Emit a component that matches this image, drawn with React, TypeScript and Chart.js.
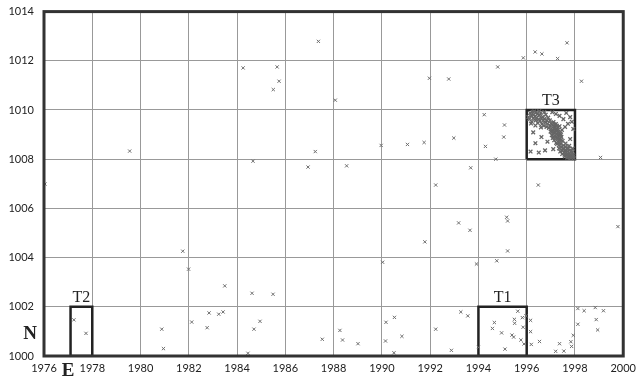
import React, { useEffect, useRef } from "react";
import { Chart, registerables } from "chart.js";

Chart.register(...registerables);

const xTicksMin = 1976;
const xTicksMax = 2000;
const yTicksMin = 1000;
const yTicksMax = 1014;

const scatterPoints: number[][] = [
  [1977.24, 1001.47], [1977.74, 1000.92], [1979.55, 1008.33], [1976.04, 1006.99],
  [1980.88, 1001.09], [1980.95, 1000.3], [1981.75, 1004.26], [1981.99, 1003.53],
  [1982.12, 1001.38], [1982.76, 1001.15], [1982.84, 1001.75], [1983.24, 1001.7],
  [1983.42, 1001.79], [1983.49, 1002.85], [1984.62, 1002.55], [1985.49, 1002.51],
  [1984.95, 1001.41], [1984.7, 1001.09], [1984.45, 1000.11], [1984.25, 1011.71],
  [1985.66, 1011.75], [1985.74, 1011.17], [1985.5, 1010.83], [1984.66, 1007.92],
  [1987.37, 1012.79], [1988.07, 1010.4], [1987.24, 1008.31], [1986.94, 1007.68],
  [1988.54, 1007.73], [1987.53, 1000.68], [1988.26, 1001.04], [1988.37, 1000.65],
  [1989.01, 1000.5], [1989.97, 1008.56], [1991.06, 1008.6], [1990.03, 1003.81],
  [1990.17, 1001.37], [1990.52, 1001.57], [1990.15, 1000.61], [1990.83, 1000.8],
  [1990.5, 1000.13], [1991.75, 1008.68], [1991.97, 1011.29], [1992.77, 1011.26],
  [1992.98, 1008.86], [1992.23, 1006.95], [1991.78, 1004.64], [1993.68, 1007.65],
  [1993.18, 1005.41], [1993.65, 1005.11], [1993.92, 1003.74], [1992.23, 1001.09],
  [1992.88, 1000.23], [1993.27, 1001.79], [1993.56, 1001.63], [1994.29, 1008.52],
  [1994.24, 1009.81], [1994.72, 1008.0], [1995.05, 1008.9], [1995.08, 1009.39],
  [1994.8, 1011.75], [1995.17, 1005.64], [1995.21, 1005.49], [1995.21, 1004.27],
  [1994.76, 1003.87], [1995.86, 1012.12], [1996.35, 1012.36], [1996.63, 1012.28],
  [1997.28, 1012.09], [1997.67, 1012.73], [1998.27, 1011.17], [1996.48, 1006.95],
  [1999.06, 1008.07], [1999.78, 1005.26], [1996.16, 1001.45], [1996.16, 1000.99],
  [1996.19, 1000.47], [1996.53, 1000.59], [1997.2, 1000.19], [1997.36, 1000.5],
  [1997.54, 1000.2], [1997.83, 1000.58], [1997.86, 1000.39], [1997.93, 1000.84],
  [1998.12, 1001.93], [1998.38, 1001.84], [1998.84, 1001.97], [1999.18, 1001.84],
  [1998.12, 1001.29], [1998.88, 1001.48], [1998.94, 1001.06],
];

const clusterT1: number[][] = [
  [1995.63, 1001.82], [1994.66, 1001.36], [1994.58, 1001.12], [1994.96, 1000.94],
  [1995.49, 1001.49], [1995.5, 1001.33], [1995.82, 1001.56], [1995.97, 1001.63],
  [1995.85, 1001.17], [1995.39, 1000.85], [1995.46, 1000.77], [1995.76, 1000.65],
  [1995.89, 1000.49], [1995.1, 1000.28], [1994.0, 1000.35],
];

const clusterT3: number[][] = [
  // upper-left band
  [1996.07, 1009.71], [1996.11, 1009.63], [1996.14, 1009.88], [1996.19, 1009.77],
  [1996.21, 1009.52], [1996.24, 1009.93], [1996.27, 1009.66], [1996.29, 1009.81],
  [1996.34, 1009.74], [1996.37, 1009.58], [1996.39, 1009.91], [1996.41, 1009.69],
  [1996.44, 1009.83], [1996.46, 1009.47], [1996.49, 1009.62], [1996.53, 1009.78],
  [1996.55, 1009.55], [1996.58, 1009.88], [1996.61, 1009.67], [1996.63, 1009.43],
  [1996.66, 1009.72], [1996.69, 1009.58], [1996.71, 1009.36], [1996.74, 1009.64],
  [1996.77, 1009.49], [1996.79, 1009.81], [1996.82, 1009.31], [1996.84, 1009.57],
  [1996.87, 1009.44], [1996.89, 1009.69], [1996.92, 1009.27], [1996.18, 1009.45],
  [1996.31, 1009.94], [1996.52, 1009.95], [1996.73, 1009.92], [1996.36, 1009.37],
  [1996.59, 1009.29], [1996.96, 1009.58],
  // scattered upper-right
  [1997.06, 1009.91], [1997.21, 1009.84], [1997.36, 1009.76], [1997.52, 1009.63],
  [1997.8, 1009.71], [1997.64, 1009.88], [1997.93, 1009.23], [1997.71, 1009.44],
  [1997.59, 1009.31], [1997.87, 1009.52],
  // central dense blob
  [1996.97, 1009.36], [1996.99, 1009.12], [1997.01, 1009.46], [1997.02, 1009.24],
  [1997.04, 1008.98], [1997.06, 1009.39], [1997.08, 1008.86], [1997.09, 1009.18],
  [1997.11, 1009.51], [1997.12, 1009.07], [1997.14, 1008.77], [1997.16, 1009.31],
  [1997.17, 1008.94], [1997.19, 1009.16], [1997.21, 1009.43], [1997.22, 1008.66],
  [1997.24, 1009.02], [1997.26, 1008.84], [1997.27, 1009.27], [1997.29, 1008.71],
  [1997.31, 1009.11], [1997.33, 1008.56], [1997.34, 1008.96], [1997.36, 1009.34],
  [1997.38, 1008.81], [1997.39, 1009.04], [1997.41, 1008.61], [1997.44, 1008.91],
  [1997.46, 1009.19], [1997.49, 1008.74], [1997.13, 1009.26], [1997.18, 1009.09],
  [1997.23, 1009.21], [1997.28, 1008.98], [1997.32, 1008.83], [1997.1, 1008.92],
  [1997.25, 1009.36], [1997.15, 1009.42], [1997.37, 1008.68], [1997.43, 1008.78],
  [1997.05, 1009.1], [1997.2, 1008.88], [1997.3, 1009.2], [1997.35, 1009.06],
  [1997.26, 1008.62], [1997.42, 1009.0],
  // lower-right band
  [1997.34, 1008.44], [1997.39, 1008.31], [1997.44, 1008.49], [1997.47, 1008.21],
  [1997.51, 1008.41], [1997.53, 1008.56], [1997.56, 1008.26], [1997.58, 1008.11],
  [1997.61, 1008.37], [1997.62, 1008.51], [1997.66, 1008.17], [1997.68, 1008.06],
  [1997.69, 1008.31], [1997.73, 1008.44], [1997.74, 1008.13], [1997.78, 1008.23],
  [1997.79, 1008.36], [1997.83, 1008.05], [1997.84, 1008.16], [1997.88, 1008.27],
  [1997.89, 1008.08], [1997.92, 1008.19], [1997.95, 1008.04], [1997.61, 1008.64],
  [1997.76, 1008.54], [1997.91, 1008.43], [1997.55, 1008.43], [1997.64, 1008.27],
  [1997.71, 1008.2], [1997.81, 1008.12], [1997.86, 1008.34], [1997.94, 1008.12],
  [1997.48, 1008.35], [1997.57, 1008.18], [1997.67, 1008.42], [1997.76, 1008.07],
  // scattered lower-left
  [1996.36, 1008.65], [1996.5, 1008.27], [1996.27, 1009.09], [1996.61, 1008.9],
  [1996.76, 1008.36], [1996.16, 1008.31], [1997.8, 1008.82], [1997.1, 1008.41],
  [1996.86, 1008.71],
];

// rectangles: [xMin, xMax, yMin, yMax]
const boxNames = ["T1", "T2", "T3"];
const boxT1 = [1994, 1996, 1000, 1002];
const boxT2 = [1977.1, 1978, 1000, 1002];
const boxT3 = [1996, 1998, 1008, 1010];

const toXY = (arr: number[][]) => arr.map(([x, y]) => ({ x, y }));
const boxPath = (b: number[]) => [
  { x: b[0], y: b[2] },
  { x: b[0], y: b[3] },
  { x: b[1], y: b[3] },
  { x: b[1], y: b[2] },
  { x: b[0], y: b[2] },
];

const overlayPlugin = {
  id: "overlay",
  afterDraw(chart: any) {
    const { ctx, chartArea, scales } = chart;
    const xs = scales.x;
    const ys = scales.y;
    ctx.save();
    ctx.strokeStyle = "#333";
    ctx.lineWidth = 3;
    ctx.strokeRect(chartArea.left, chartArea.top, chartArea.right - chartArea.left, chartArea.bottom - chartArea.top);
    ctx.fillStyle = "#222";
    ctx.textAlign = "center";
    ctx.textBaseline = "bottom";
    [boxT1, boxT2, boxT3].forEach((b, i) => {
      const cx = xs.getPixelForValue((b[0] + b[1]) / 2);
      const cy = ys.getPixelForValue(b[3]);
      ctx.font = "16px 'Liberation Serif', serif";
      ctx.fillText(boxNames[i], cx, cy - 1);
    });
    ctx.font = "bold 19px 'Liberation Serif', serif";
    ctx.textAlign = "center";
    ctx.textBaseline = "middle";
    ctx.fillText("N", chartArea.left - 14, ys.getPixelForValue(1000.9));
    ctx.fillText("E", xs.getPixelForValue(1977), chartArea.bottom + 15);
    ctx.restore();
  },
};

export default function App() {
  const ref = useRef<HTMLCanvasElement>(null);
  useEffect(() => {
    if (!ref.current) return;
    const pointStyle = {
      pointStyle: "crossRot" as const,
      pointRadius: 2.3,
      pointBorderWidth: 1,
      showLine: false,
    };
    const boxStyle = {
      showLine: true,
      borderColor: "#222",
      borderWidth: 2.5,
      pointRadius: 0,
      fill: false,
      tension: 0,
    };
    const tickFont = { family: "Lato, 'Liberation Sans', sans-serif", size: 11 };
    const chart = new Chart(ref.current, {
      type: "scatter",
      data: {
        datasets: [
          { data: toXY(scatterPoints), borderColor: "#6e6e6e", backgroundColor: "#6e6e6e", ...pointStyle },
          { data: toXY(clusterT1), borderColor: "#6e6e6e", backgroundColor: "#6e6e6e", ...pointStyle },
          { data: toXY(clusterT3), borderColor: "#666", backgroundColor: "#666", ...pointStyle, pointRadius: 2.6, pointBorderWidth: 1.3 },
          { data: boxPath(boxT1), ...boxStyle },
          { data: boxPath(boxT2), ...boxStyle },
          { data: boxPath(boxT3), ...boxStyle },
        ] as any,
      },
      options: {
        animation: false,
        responsive: false,
        events: [],
        layout: { padding: { top: 0, right: 18, left: 0, bottom: 0 } },
        plugins: { legend: { display: false }, tooltip: { enabled: false } },
        scales: {
          x: {
            type: "linear",
            min: xTicksMin,
            max: xTicksMax,
            ticks: { stepSize: 2, color: "#222", padding: 6, font: tickFont, callback: (v: any) => String(v) },
            grid: { color: "#999", lineWidth: 1, drawTicks: false },
            border: { display: false },
            afterFit: (s: any) => { s.height = 25; },
          },
          y: {
            type: "linear",
            min: yTicksMin,
            max: yTicksMax,
            ticks: { stepSize: 2, color: "#222", padding: 5, font: tickFont, callback: (v: any) => String(v) },
            grid: { color: "#999", lineWidth: 1, drawTicks: true, tickLength: 5, tickColor: "rgba(0,0,0,0)" },
            border: { display: false },
            afterFit: (s: any) => { s.width = 44; },
          },
        },
      },
      plugins: [overlayPlugin],
    });
    return () => chart.destroy();
  }, []);
  return (
    <div style={{ position: "fixed", left: 0, top: 0, width: 642, height: 381, background: "#fff" }}>
      <canvas ref={ref} width={642} height={381} style={{ width: 642, height: 381, display: "block" }} />
    </div>
  );
}
